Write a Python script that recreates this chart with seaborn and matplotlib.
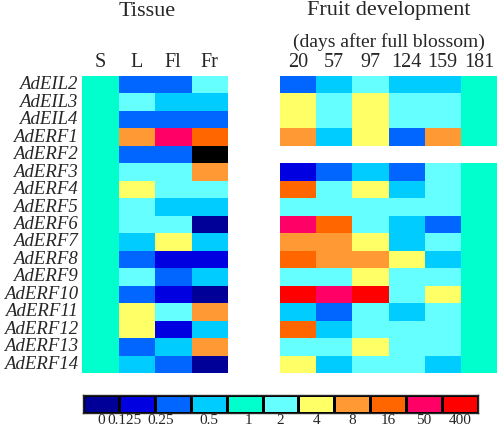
import numpy as np
import pandas as pd
import seaborn as sns
import matplotlib.pyplot as plt
from matplotlib.colors import ListedColormap

# genes (rows)
genes = ["AdEIL2", "AdEIL3", "AdEIL4", "AdERF1", "AdERF2", "AdERF3", "AdERF4",
         "AdERF5", "AdERF6", "AdERF7", "AdERF8", "AdERF9", "AdERF10", "AdERF11",
         "AdERF12", "AdERF13", "AdERF14"]

# colour classes of the scale (relative expression)
levels = [0, 0.125, 0.25, 0.5, 1, 2, 4, 8, 16, 50, 400]
level_labels = ["0", "0.125", "0.25", "0.5", "1", "2", "4", "8", "16", "50", "400"]
colors = ["#000099", "#0000E0", "#0066FF", "#00CCFF", "#00FFCC", "#66FFFF",
          "#FFFF66", "#FF9933", "#FF6600", "#FF0066", "#FF0000"]

# tissue panel (None = not detected, drawn black)
tissues = ["S", "L", "Fl", "Fr"]
tis_S = [1, 1, 1, 1, 1, 1, 1, 1, 1, 1, 1, 1, 1, 1, 1, 1, 1]
tis_L = [0.25, 2, 0.25, 8, 0.25, 2, 4, 2, 2, 0.5, 0.25, 2, 0.25, 4, 4, 0.25, 0.5]
tis_Fl = [0.25, 0.5, 0.25, 50, 0.25, 2, 2, 0.5, 2, 4, 0.125, 0.25, 0.125, 2, 0.125, 0.5, 0.25]
tis_Fr = [2, 0.5, 0.25, 16, None, 8, 2, 0.5, 0, 0.5, 0.125, 0.5, 0, 8, 0.5, 8, 0]

# fruit development panel (days after full blossom), None = no data
days = ["20", "57", "97", "124", "159", "181"]
d20 = [0.25, 4, 4, 8, None, 0.125, 16, 2, 50, 8, 16, 2, 400, 0.5, 16, 2, 4]
d57 = [0.5, 2, 2, 0.5, None, 0.25, 2, 2, 16, 8, 8, 2, 50, 0.25, 0.5, 2, 0.5]
d97 = [2, 4, 4, 4, None, 0.5, 4, 2, 2, 4, 8, 4, 400, 2, 2, 4, 2]
d124 = [0.5, 2, 2, 0.25, None, 0.25, 0.5, 2, 0.5, 0.5, 4, 2, 2, 0.5, 2, 2, 2]
d159 = [0.5, 2, 2, 8, None, 2, 2, 2, 0.25, 2, 0.5, 2, 4, 2, 2, 2, 0.5]
d181 = [1, 1, 1, 1, None, 1, 1, 1, 1, 1, 1, 1, 1, 1, 1, 1, 1]


def to_class(vals):
    return [np.nan if v is None else levels.index(v) for v in vals]


tissue_df = pd.DataFrame({t: to_class(v) for t, v in zip(tissues, [tis_S, tis_L, tis_Fl, tis_Fr])},
                         index=genes)
fruit_df = pd.DataFrame({d: to_class(v) for d, v in zip(days, [d20, d57, d97, d124, d159, d181])},
                        index=genes)

sns.set_style("white")
plt.rcParams["font.family"] = ["Liberation Serif", "DejaVu Serif"]

cmap = ListedColormap(colors)
W, H = 498, 430
fig = plt.figure(figsize=(W / 100, H / 100), dpi=100)

# tissue heatmap
ax1 = fig.add_axes([82 / W, 1 - 373 / H, 146 / W, 297 / H])
sns.heatmap(tissue_df, ax=ax1, cmap=cmap, vmin=-0.5, vmax=10.5, cbar=False)
ax1.set_facecolor("black")
ax1.xaxis.tick_top()
ax1.tick_params(length=0, pad=3)
ax1.set_xticklabels(tissues, fontsize=14.5)
ax1.tick_params(axis="y", pad=3)
ax1.set_yticklabels(genes, rotation=0, fontstyle="italic", fontsize=13.5)
ax1.set_xlabel("")
ax1.set_ylabel("")

# fruit development heatmap
ax2 = fig.add_axes([280 / W, 1 - 373 / H, 217 / W, 297 / H])
sns.heatmap(fruit_df, ax=ax2, cmap=cmap, vmin=-0.5, vmax=10.5, cbar=False, yticklabels=False)
ax2.xaxis.tick_top()
ax2.tick_params(length=0, pad=3)
ax2.set_xticklabels(days, fontsize=14.5)
ax2.set_xlabel("")
ax2.set_ylabel("")

# colour scale
ax3 = fig.add_axes([83 / W, 1 - 413 / H, 395 / W, 18 / H])
scale_df = pd.DataFrame([list(range(len(levels)))], columns=level_labels)
sns.heatmap(scale_df, ax=ax3, cmap=cmap, vmin=-0.5, vmax=10.5, cbar=False,
            linewidths=1, linecolor="black", yticklabels=False)
for s in ax3.spines.values():
    s.set_visible(True)
    s.set_linewidth(1)
# crowded small labels sit a little to the left, as in the original
nudge = [0, -0.35, -0.35, 0, 0.12, 0, 0, 0, 0, 0, 0]
ax3.set_xticks([i + 0.5 + n for i, n in enumerate(nudge)])
ax3.tick_params(length=0, pad=1)
ax3.set_xticklabels(level_labels, fontsize=11, rotation=0)
ax3.set_xlabel("")

# titles
fig.text(147 / W, 1 - 11 / H, "Tissue", ha="center", va="center", fontsize=16)
fig.text(389 / W, 1 - 11 / H, "Fruit development", ha="center", va="center", fontsize=16)
fig.text(389 / W, 1 - 42 / H, "(days after full blossom)", ha="center", va="center", fontsize=14)

fig.savefig("out.png", dpi=100)
